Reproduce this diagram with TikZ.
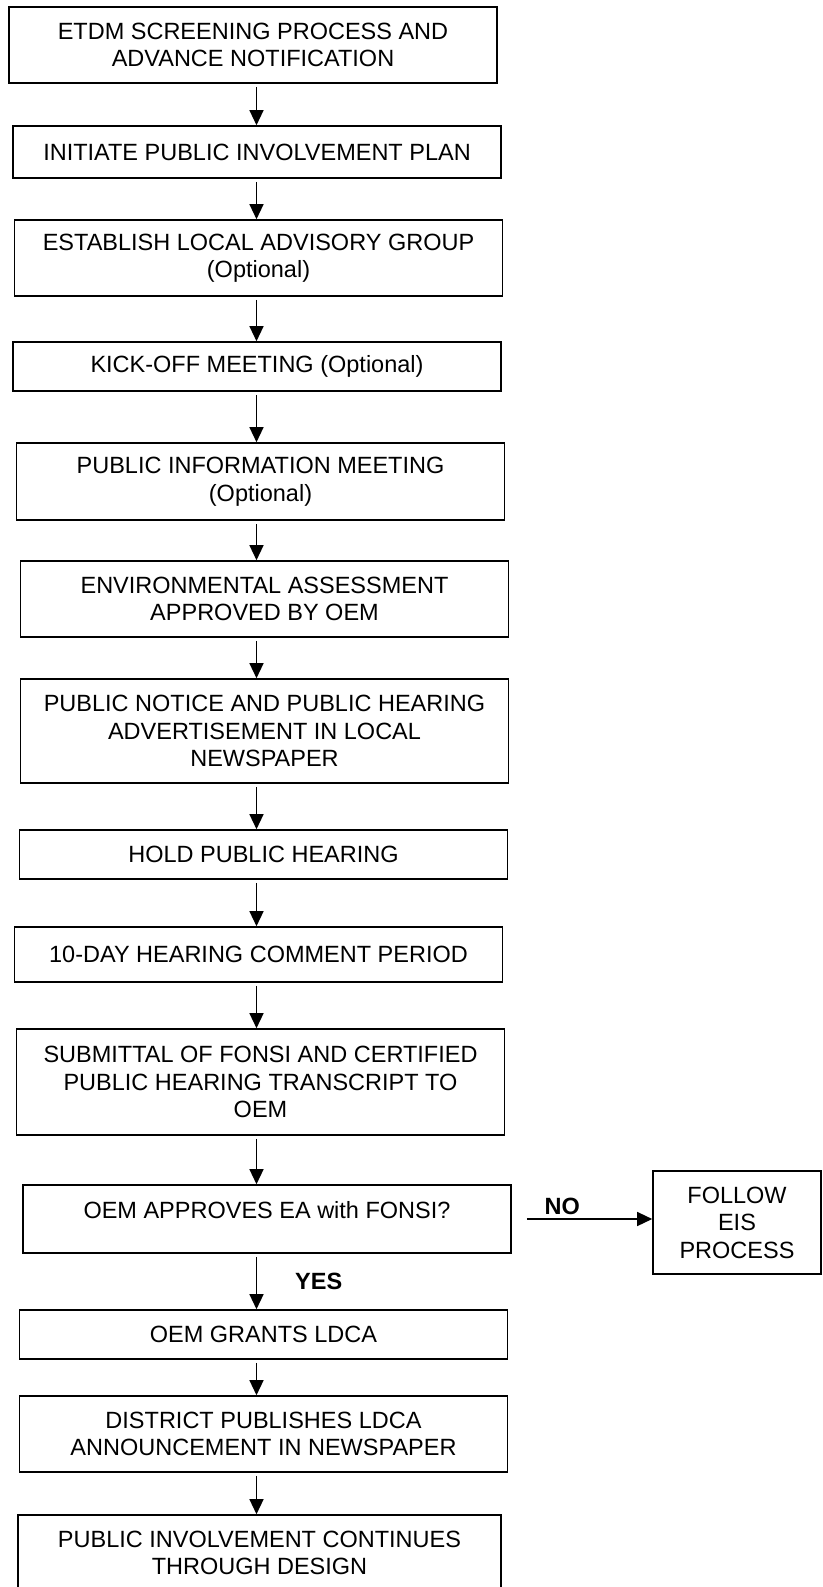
\documentclass[tikz,border=0pt]{standalone}
\usepackage{fontspec}
\setmainfont{Liberation Sans}
\usetikzlibrary{arrows.meta}

\begin{document}
\begin{tikzpicture}[x=1pt,y=-1pt,
  stepbox/.style={draw,line width=1.6pt,inner sep=0pt,minimum width=488pt,
    align=center,font=\fontsize{23.5}{27.5}\selectfont},
  lab/.style={inner sep=0pt,font=\fontsize{23.5}{27.5}\selectfont\bfseries},
  flow/.style={-{Triangle[length=15pt,width=14pt]},line width=1.3pt,shorten <=3pt}]
  \useasboundingbox (0,0) rectangle (822,1587);
  \path
  node[stepbox,minimum height=76pt] (s_1) at (253,45) {ETDM SCREENING PROCESS AND\\ADVANCE NOTIFICATION}
  node[stepbox,minimum height=52pt] (s_2) at (257,152) {INITIATE PUBLIC INVOLVEMENT PLAN}
  node[stepbox,minimum height=76pt] (s_3) at (258.5,258) {ESTABLISH LOCAL ADVISORY GROUP\\(Optional)}
  node[stepbox,minimum height=49pt] (s_4) at (257,366.5) {KICK-OFF MEETING (Optional)}
  node[stepbox,minimum height=77pt] (s_5) at (260.5,481.5) {PUBLIC INFORMATION MEETING\\(Optional)}
  node[stepbox,minimum height=76pt] (s_6) at (264.5,599) {ENVIRONMENTAL ASSESSMENT\\APPROVED BY OEM}
  node[stepbox,minimum height=104pt] (s_7) at (264.5,731) {PUBLIC NOTICE AND PUBLIC HEARING\\ADVERTISEMENT IN LOCAL\\NEWSPAPER}
  node[stepbox,minimum height=49pt] (s_8) at (263.5,854.5) {HOLD PUBLIC HEARING}
  node[stepbox,minimum height=55pt] (s_9) at (258.5,954.5) {10-DAY HEARING COMMENT PERIOD}
  node[stepbox,minimum height=106pt] (s_10) at (260.5,1082) {SUBMITTAL OF FONSI AND CERTIFIED\\PUBLIC HEARING TRANSCRIPT TO\\OEM}
  node[stepbox,minimum height=68pt,text height=17pt,text depth=19pt] (s_11) at (267,1219) {OEM APPROVES EA with FONSI?}
  node[stepbox,minimum height=49pt] (s_12) at (263.5,1334.5) {OEM GRANTS LDCA}
  node[stepbox,minimum height=76pt] (s_13) at (263.5,1434) {DISTRICT PUBLISHES LDCA\\ANNOUNCEMENT IN NEWSPAPER}
  node[stepbox,minimum height=76pt,minimum width=483pt] (s_14) at (259.5,1553) {PUBLIC INVOLVEMENT CONTINUES\\THROUGH DESIGN}
  node[stepbox,minimum height=103pt,minimum width=168pt] (eis) at (737,1222.5) {FOLLOW\\EIS\\PROCESS}
  ;
  \coordinate (spine) at (256.5,0);
  \path[flow]
  (s_1.south -| spine) edge (s_2.north -| spine)
  (s_2.south -| spine) edge (s_3.north -| spine)
  (s_3.south -| spine) edge (s_4.north -| spine)
  (s_4.south -| spine) edge (s_5.north -| spine)
  (s_5.south -| spine) edge (s_6.north -| spine)
  (s_6.south -| spine) edge (s_7.north -| spine)
  (s_7.south -| spine) edge (s_8.north -| spine)
  (s_8.south -| spine) edge (s_9.north -| spine)
  (s_9.south -| spine) edge (s_10.north -| spine)
  (s_10.south -| spine) edge (s_11.north -| spine)
  (s_11.south -| spine) edge node[lab,right=38pt] {YES} (s_12.north -| spine)
  (s_12.south -| spine) edge (s_13.north -| spine)
  (s_13.south -| spine) edge (s_14.north -| spine)
  (s_11.east) edge[shorten <=15pt] node[lab,pos=0.36,above=4pt] {NO} (eis.west |- s_11.east)
  ;
\end{tikzpicture}
\end{document}
